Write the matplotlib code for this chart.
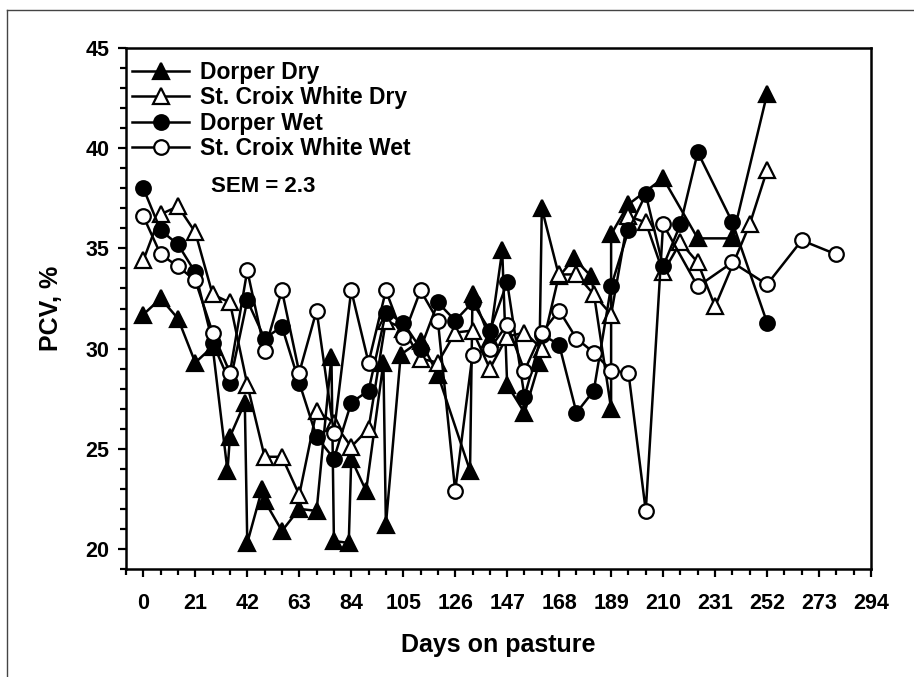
import matplotlib
matplotlib.use("Agg")
import matplotlib.pyplot as plt
from matplotlib.lines import Line2D
from matplotlib.ticker import MultipleLocator

plt.rcParams['font.family'] = ['Liberation Sans', 'DejaVu Sans']
plt.rcParams['font.weight'] = 'bold'

# Dorper Dry (filled triangles)
dd_days = [0, 7, 14, 21, 28, 34, 35, 41, 42, 48, 49, 56, 63, 70, 76, 77, 83, 84, 90,
           97, 98, 104, 112, 119, 132, 133, 140, 145, 147, 154, 160, 161, 168, 174, 181,
           189, 189, 196, 210, 224, 238, 252]
dd_pcv = [31.7, 32.5, 31.5, 29.3, 30.1, 23.9, 25.6, 27.3, 20.3, 23.0, 22.4, 20.9, 22.0, 21.9,
          29.6, 20.4, 20.3, 24.5, 22.9, 29.3, 21.2, 29.7, 30.4, 28.7, 23.9, 32.7, 30.5, 34.9,
          28.2, 26.8, 29.3, 37.0, 33.6, 34.5, 33.6, 27.0, 35.7, 37.2, 38.5, 35.5, 35.5, 42.7]

# St. Croix White Dry (open triangles)
sd_days = [0, 7, 14, 21, 28, 35, 42, 49, 56, 63, 70, 77, 84, 91, 98, 105, 112, 119, 126,
           133, 140, 147, 154, 161, 168, 175, 182, 189, 196, 203, 210, 217, 224, 231, 245, 252]
sd_pcv = [34.4, 36.7, 37.1, 35.8, 32.7, 32.3, 28.2, 24.6, 24.6, 22.7, 26.9, 26.3, 25.1, 26.0,
          31.4, 31.0, 29.5, 29.3, 30.8, 30.9, 29.0, 30.6, 30.8, 30.0, 33.7, 33.7, 32.7, 31.7,
          36.6, 36.3, 33.8, 35.3, 34.3, 32.1, 36.2, 38.9]

# Dorper Wet (filled circles)
dw_days = [0, 7, 14, 21, 28, 35, 42, 49, 56, 63, 70, 77, 84, 91, 98, 105, 112, 119, 126,
           133, 140, 147, 154, 161, 168, 175, 182, 189, 196, 203, 210, 217, 224, 238, 252]
dw_pcv = [38.0, 35.9, 35.2, 33.8, 30.3, 28.3, 32.4, 30.5, 31.1, 28.3, 25.6, 24.5, 27.3, 27.9,
          31.8, 31.3, 30.0, 32.3, 31.4, 32.3, 30.9, 33.3, 27.6, 30.7, 30.2, 26.8, 27.9, 33.1,
          35.9, 37.7, 34.1, 36.2, 39.8, 36.3, 31.3]

# St. Croix White Wet (open circles)
sw_days = [0, 7, 14, 21, 28, 35, 42, 49, 56, 63, 70, 77, 84, 91, 98, 105, 112, 119, 126,
           133, 140, 147, 154, 161, 168, 175, 182, 189, 196, 203, 210, 224, 238, 252, 266, 280]
sw_pcv = [36.6, 34.7, 34.1, 33.4, 30.8, 28.8, 33.9, 29.9, 32.9, 28.8, 31.9, 25.8, 32.9, 29.3,
          32.9, 30.6, 32.9, 31.4, 22.9, 29.7, 30.0, 31.2, 28.9, 30.8, 31.9, 30.5, 29.8, 28.9,
          28.8, 21.9, 36.2, 33.1, 34.3, 33.2, 35.4, 34.7]

fig = plt.figure(figsize=(9.14, 6.77), dpi=100)
ax = fig.add_axes([126 / 914, 1 - 569 / 677, 745 / 914, 521 / 677])

lw = 1.8
ms_tri = 11.5
ms_circ = 10.5
ax.plot(dd_days, dd_pcv, color='black', lw=lw, marker='^', ms=ms_tri, mfc='black',
        mec='black', mew=1.6, label='Dorper Dry', zorder=3)
ax.plot(sd_days, sd_pcv, color='black', lw=lw, marker='^', ms=ms_tri, mfc='white',
        mec='black', mew=1.6, label='St. Croix White Dry', zorder=4)
ax.plot(dw_days, dw_pcv, color='black', lw=lw, marker='o', ms=ms_circ, mfc='black',
        mec='black', mew=1.6, label='Dorper Wet', zorder=5)
ax.plot(sw_days, sw_pcv, color='black', lw=lw, marker='o', ms=ms_circ, mfc='white',
        mec='black', mew=1.6, label='St. Croix White Wet', zorder=6)

ax.set_xlim(-7, 294)
ax.set_ylim(19, 45)
ax.xaxis.set_major_locator(MultipleLocator(21))
ax.xaxis.set_minor_locator(MultipleLocator(7))
ax.yaxis.set_major_locator(MultipleLocator(5))
ax.yaxis.set_minor_locator(MultipleLocator(1))
ax.tick_params(which='major', direction='out', length=6, width=1.6, labelsize=15.5)
ax.tick_params(which='minor', direction='out', length=4, width=1.6)
ax.tick_params(axis='x', which='major', pad=11)
ax.tick_params(axis='y', which='major', pad=6)
for s in ax.spines.values():
    s.set_linewidth(1.8)

ax.set_xlabel('Days on pasture', fontsize=18, fontweight='bold', labelpad=14)
ax.set_ylabel('PCV, %', fontsize=18, fontweight='bold', labelpad=16)

leg = ax.legend(loc='upper left', bbox_to_anchor=(0.008, 0.975), frameon=False,
                fontsize=16.5, handlelength=2.5, handletextpad=0.45, labelspacing=0.1,
                borderpad=0, borderaxespad=0)
ax.text(0.114, 0.735, 'SEM = 2.3', transform=ax.transAxes, fontsize=16,
        fontweight='bold', va='center', ha='left')

# thin outer frame
fig.add_artist(Line2D([7 / 914, 1.0], [1 - 10 / 677, 1 - 10 / 677], color='#444444', lw=1))
fig.add_artist(Line2D([7 / 914, 7 / 914], [0.0, 1 - 10 / 677], color='#444444', lw=1))

fig.savefig('out.png', dpi=100)
